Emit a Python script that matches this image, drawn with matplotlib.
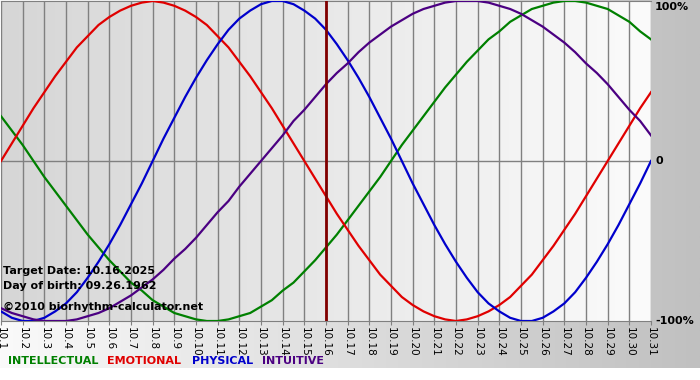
import numpy as np
import matplotlib
matplotlib.use("Agg")
import matplotlib.pyplot as plt
from matplotlib.colors import LinearSegmentedColormap

# days of october 2025
days = list(range(1, 32))
day_labels = ["10.%d" % d for d in days]

# biorhythm values, every half day from 10.1 to 10.31
physical = [-0.94, -0.98, -1.00, -1.00, -0.98, -0.94, -0.89, -0.82, -0.73, -0.63,
            -0.52, -0.40, -0.27, -0.14, 0.00, 0.14, 0.27, 0.40, 0.52, 0.63,
            0.73, 0.82, 0.89, 0.94, 0.98, 1.00, 1.00, 0.98, 0.94, 0.89,
            0.82, 0.73, 0.63, 0.52, 0.40, 0.27, 0.14, 0.00, -0.14, -0.27,
            -0.40, -0.52, -0.63, -0.73, -0.82, -0.89, -0.94, -0.98, -1.00, -1.00,
            -0.98, -0.94, -0.89, -0.82, -0.73, -0.63, -0.52, -0.40, -0.27, -0.14,
            0.00]
emotional = [0.00, 0.11, 0.22, 0.33, 0.43, 0.53, 0.62, 0.71, 0.78, 0.85,
             0.90, 0.94, 0.97, 0.99, 1.00, 0.99, 0.97, 0.94, 0.90, 0.85,
             0.78, 0.71, 0.62, 0.53, 0.43, 0.33, 0.22, 0.11, 0.00, -0.11,
             -0.22, -0.33, -0.43, -0.53, -0.62, -0.71, -0.78, -0.85, -0.90, -0.94,
             -0.97, -0.99, -1.00, -0.99, -0.97, -0.94, -0.90, -0.85, -0.78, -0.71,
             -0.62, -0.53, -0.43, -0.33, -0.22, -0.11, 0.00, 0.11, 0.22, 0.33,
             0.43]
intellectual = [0.28, 0.19, 0.10, 0.00, -0.10, -0.19, -0.28, -0.37, -0.46, -0.54,
                -0.62, -0.69, -0.76, -0.81, -0.87, -0.91, -0.95, -0.97, -0.99, -1.00,
                -1.00, -0.99, -0.97, -0.95, -0.91, -0.87, -0.81, -0.76, -0.69, -0.62,
                -0.54, -0.46, -0.37, -0.28, -0.19, -0.10, 0.00, 0.10, 0.19, 0.28,
                0.37, 0.46, 0.54, 0.62, 0.69, 0.76, 0.81, 0.87, 0.91, 0.95,
                0.97, 0.99, 1.00, 1.00, 0.99, 0.97, 0.95, 0.91, 0.87, 0.81,
                0.76]
intuitive = [-0.92, -0.95, -0.97, -0.99, -1.00, -1.00, -1.00, -0.99, -0.97, -0.95,
             -0.92, -0.88, -0.84, -0.79, -0.74, -0.68, -0.61, -0.55, -0.48, -0.40,
             -0.32, -0.25, -0.16, -0.08, 0.00, 0.08, 0.16, 0.25, 0.32, 0.40,
             0.48, 0.55, 0.61, 0.68, 0.74, 0.79, 0.84, 0.88, 0.92, 0.95,
             0.97, 0.99, 1.00, 1.00, 1.00, 0.99, 0.97, 0.95, 0.92, 0.88,
             0.84, 0.79, 0.74, 0.68, 0.61, 0.55, 0.48, 0.40, 0.32, 0.25,
             0.16]
target_day = 16

W, H = 700, 380
fig = plt.figure(figsize=(W / 100, H / 100), dpi=100)
fig.patch.set_facecolor("white")

# background band: white -> grey from left to right
bg = fig.add_axes([0, 12 / H, 1, 368 / H])
bg.axis("off")
grad = np.linspace(0, 1, 256).reshape(1, -1)
bg.imshow(grad, aspect="auto", cmap=LinearSegmentedColormap.from_list("bg", ["#fafafa", "#c0c0c0"]),
          extent=[0, 1, 0, 1])
bg.set_xlim(0, 1)
bg.set_ylim(0, 1)

ax = fig.add_axes([1 / W, 59 / H, 650 / W, 320 / H])
ax.set_xlim(1, 31)
ax.set_ylim(-1, 1)
ax.imshow(grad, aspect="auto", zorder=0,
          cmap=LinearSegmentedColormap.from_list("pa", ["#d6d6d6", "#fbfbfb"]),
          extent=[1, 31, -1, 1])

for d in days:
    ax.axvline(d, color="#808080", lw=1, zorder=1)
ax.axhline(0, color="#808080", lw=1, zorder=1)

xh = np.linspace(days[0], days[-1], len(physical))
ax.plot(xh, intellectual, color="#008000", lw=1.6, zorder=3)
ax.plot(xh, emotional, color="#e00000", lw=1.6, zorder=3)
ax.plot(xh, physical, color="#0000cc", lw=1.6, zorder=3)
ax.plot(xh, intuitive, color="#4b0082", lw=1.6, zorder=3)
ax.axvline(target_day, color="#800000", lw=2, zorder=4)

for s in ax.spines.values():
    s.set_color("#808080")
ax.spines["left"].set_visible(False)
ax.spines["right"].set_visible(False)
ax.set_yticks([])
ax.set_xticks(days)
ax.set_xticklabels(day_labels, rotation=270, fontsize=7.5, family="DejaVu Sans")
ax.tick_params(axis="x", length=3, color="#808080", pad=1)

lab = dict(fontsize=8, fontweight="bold", family="DejaVu Sans", color="black")
fig.text(655 / W, 1 - 7 / H, "100%", va="center", ha="left", **lab)
fig.text(655 / W, 1 - 161 / H, "0", va="center", ha="left", **lab)
fig.text(655 / W, 1 - 321 / H, "-100%", va="center", ha="left", **lab)

fig.text(3 / W, 1 - 271 / H, "Target Date: 10.16.2025", va="center", **lab)
fig.text(3 / W, 1 - 286 / H, "Day of birth: 09.26.1962", va="center", **lab)
fig.text(3 / W, 1 - 307 / H, "\u00a92010 biorhythm-calculator.net", va="center", **lab)

legend_items = [("INTELLECTUAL", "#008000", 8), ("EMOTIONAL", "#e00000", 107),
                ("PHYSICAL", "#0000cc", 192), ("INTUITIVE", "#4b0082", 262)]
for name, col, px in legend_items:
    fig.text(px / W, 1 - 361 / H, name, va="center", ha="left", fontsize=8,
             fontweight="bold", family="DejaVu Sans", color=col)

fig.savefig("out.png", dpi=100)
